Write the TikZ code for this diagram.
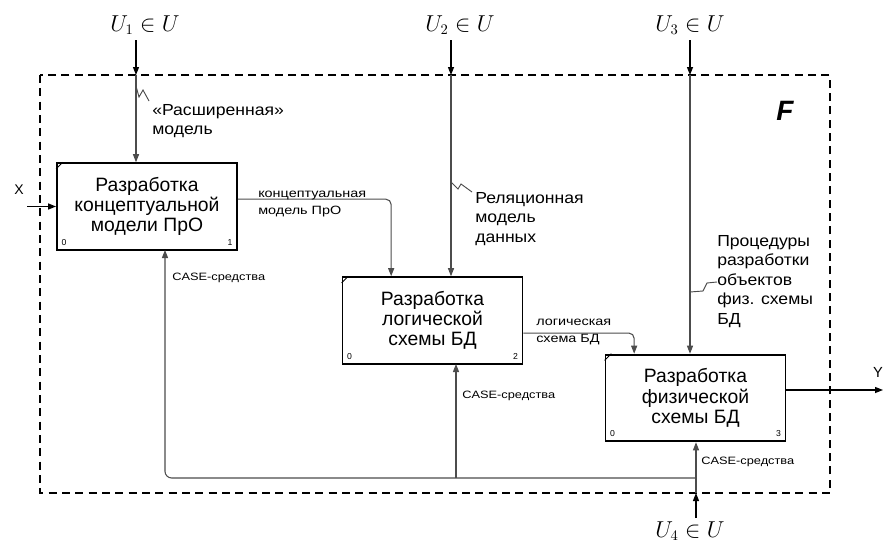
\documentclass[tikz,border=0pt]{standalone}
\usepackage{fontspec}
\setmainfont{Liberation Sans}
\newfontfamily\widesans[FakeStretch=1.2]{Liberation Sans}
\newfontfamily\midsans[FakeStretch=1.1]{Liberation Sans}
\usetikzlibrary{arrows.meta}
\begin{document}
\begin{tikzpicture}[x=0.75pt,y=-0.75pt,
  proc/.style={draw, line width=1.4pt, minimum width=135pt, minimum height=65pt,
    inner sep=2pt, align=center, font=\fontsize{14.5}{15.2}\selectfont},
  conn/.style={draw=black!70, line width=0.8pt, -{Triangle[length=6pt,width=4.5pt]}},
  bar/.style={draw=black, line width=1pt, -{Triangle[length=6pt,width=4.5pt]}},
  frame/.style={draw, line width=1.4pt, dash pattern=on 6pt off 4pt},
  lbl/.style={align=left, anchor=north west, font=\midsans\fontsize{12}{14.6}\selectfont, inner sep=0pt},
  small/.style={font=\widesans\fontsize{9}{12.5}\selectfont, align=left, inner sep=0pt},
  casel/.style={font=\widesans\fontsize{8}{9}\selectfont, align=left, inner sep=0pt},
  num/.style={font=\fontsize{6.5}{7}\selectfont, inner sep=0pt},
  ulab/.style={font=\fontsize{16}{18}\selectfont, inner sep=0pt},
  sq/.style={draw=black!70, line width=0.7pt}
]
\useasboundingbox (0,0) rectangle (883,543);

% frame
\draw[frame] (40,75) rectangle (830,493);
\coordinate (ftop) at (0,75);
\coordinate (fbot) at (0,493);
\node[font=\fontsize{21}{24}\selectfont\bfseries\itshape] (F) at (785,111) {F};

% boxes
\node[proc] (b1) at (147,206.5) {Разработка\\концептуальной\\модели ПрО};
\node[proc] (b2) at (432.5,320.5) {Разработка\\логической\\схемы БД};
\node[proc] (b3) at (695.5,398) {Разработка\\физической\\схемы БД};

\foreach \b/\n in {b1/1,b2/2,b3/3}{
  \draw[line width=0.6pt] ([yshift=-5pt]\b.north west) -- ([xshift=5pt]\b.north west);
  \node[num, anchor=south west] at ([xshift=4pt,yshift=4pt]\b.south west) {0};
  \node[num, anchor=south east] at ([xshift=-4pt,yshift=4pt]\b.south east) {\n};
}

% controls
\coordinate (u1) at (136,40);
\coordinate (u2) at (451,40);
\coordinate (u3) at (690,40);
\node[ulab] (U1) at (145,25) {$U_1\in U$};
\node[ulab] (U2) at (460,25) {$U_2\in U$};
\node[ulab] (U3) at (690,25) {$U_3\in U$};
\draw[bar] (u1) -- (u1 |- ftop);
\draw[bar] (u2) -- (u2 |- ftop);
\draw[bar] (u3) -- (u3 |- ftop);
\draw[conn] (u1 |- ftop) -- (u1 |- b1.north);
\draw[conn] (u2 |- ftop) -- (u2 |- b2.north);
\draw[conn] (u3 |- ftop) -- (u3 |- b3.north);

% control labels with squiggles
\node[lbl] (l1) at (152,104) {«Расширенная»\\модель};
\draw[sq] (136,86) -- (139,97) -- (143,90) -- (149,101);
\node[lbl] (l2) at (475,192) {Реляционная\\модель\\данных};
\draw[sq] (451,182) -- (458,189) -- (461,184) -- (472,192);
\node[lbl] (l3) at (717,235) {Процедуры\\разработки\\объектов\\физ. схемы\\БД};
\draw[sq] (690,292) -- (703,291) -- (707,283) -- (717,282);

% input / output
\node[font=\fontsize{10.5}{12}\selectfont] (X) at (19,190) {X};
\coordinate (xs) at (27,206.5);
\draw[bar] (xs) -- (b1.west);
\node[font=\fontsize{11}{13}\selectfont] (Y) at (878,372) {Y};
\coordinate (ye) at (883,390);
\draw[bar] ([yshift=6pt]b3.east) -- (ye);

% flows between boxes
\draw[conn, rounded corners=4pt] ([yshift=5.5pt]b1.east) -| ([xshift=-31pt]b2.north);
\node[small, anchor=west] (k) at (258,204) {концептуальная\\модель ПрО};
\draw[conn, rounded corners=4pt] ([yshift=-9.4pt]b2.east) -| ([xshift=-46pt]b3.north);
\node[small, anchor=west] (lg) at (536,332) {логическая\\схема БД};

% mechanisms
\coordinate (u4) at (696,518);
\node[ulab] (U4) at (690,531) {$U_4\in U$};
\draw[bar] (u4) -- (u4 |- fbot);
\draw[conn] (u4 |- fbot) -- (u4 |- b3.south);
\coordinate (m) at (696,478);
\coordinate (c1) at (165,250);
\coordinate (c2) at (456,364);
\draw[draw=black!70, line width=0.8pt, rounded corners=5pt, -{Triangle[length=6pt,width=4.5pt]}] (m) -| (c1);
\draw[conn] (c2 |- m) -- (c2);
\node[casel, anchor=west] (cs1) at (172,278) {CASE-средства};
\node[casel, anchor=west] (cs2) at (462,396) {CASE-средства};
\node[casel, anchor=west] (cs3) at (701,462) {CASE-средства};
\end{tikzpicture}
\end{document}
